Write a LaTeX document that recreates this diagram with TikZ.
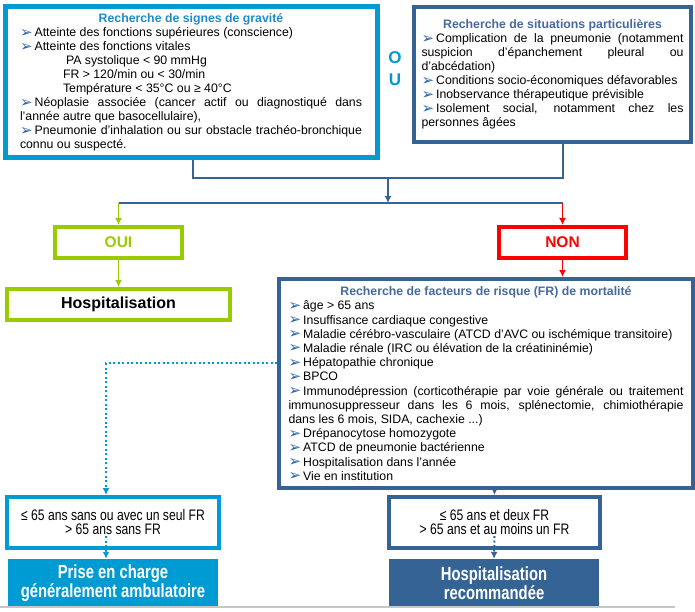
\documentclass[tikz,border=0pt]{standalone}
\usepackage{fontspec}
\setmainfont{Liberation Sans}
\newfontfamily\etroit[FakeStretch=0.8]{Liberation Sans}
\newfontfamily\etroitgras[FakeStretch=0.78]{Liberation Sans}
\newfontfamily\symb{DejaVu Sans}
\usetikzlibrary{arrows.meta, calc}

\definecolor{cyanfr}{RGB}{0,155,210}
\definecolor{bleufr}{RGB}{52,99,148}
\definecolor{vertfr}{RGB}{153,204,0}
\definecolor{rougefr}{RGB}{255,0,0}
\definecolor{titrecyan}{RGB}{30,140,200}
\definecolor{titrebleu}{RGB}{70,105,160}
\definecolor{pucefr}{RGB}{40,100,170}
\newcommand{\puce}{\smash{\symb\fontsize{15}{10}\selectfont\color{pucefr}\raisebox{-0.5pt}{➢}}\,}
\newcommand{\corps}{\fontsize{12.3}{14}\selectfont}
\hyphenpenalty=10000
\exhyphenpenalty=10000
\emergencystretch=10pt

\tikzset{
  cadre/.style={draw, line width=4.5pt, align=justify, inner sep=0pt, font=\corps},
  choix/.style={draw, line width=4pt, minimum width=127pt, minimum height=31pt,
    font=\bfseries\fontsize{15.5}{17}\selectfont},
  seuil/.style={draw, line width=4pt, minimum width=212pt, minimum height=51pt,
    align=center, font=\etroit\fontsize{15.2}{14}\selectfont},
  issue/.style={minimum width=210pt, minimum height=48pt, text=white, align=center,
    font=\etroitgras\bfseries\fontsize{19}{19}\selectfont},
  lien/.style={line width=1.2pt, bleufr},
  pointille/.style={line width=2pt, dash pattern=on 2pt off 2.5pt},
  >={Latex[length=7pt, width=7pt]}
}

\begin{document}
\begin{tikzpicture}[x=1pt, y=-1pt]
\useasboundingbox (0,0) rectangle (695,612);

% les deux recherches de depart
\node[cadre, draw=cyanfr, line width=5pt, text width=342pt, minimum width=372pt, minimum height=151pt] (gravite) at (191,82.5) {%
{\centering\bfseries\color{titrecyan}Recherche de signes de gravité\par}
\puce Atteinte des fonctions supérieures (conscience)\par
\puce Atteinte des fonctions vitales\par
\hspace*{46pt}PA systolique < 90 mmHg\par
\hspace*{43pt}FR > 120/min ou < 30/min\par
\hspace*{43pt}Température < 35°C ou ≥ 40°C\par
\puce Néoplasie associée (cancer actif ou diagnostiqué dans l'année autre que basocellulaire),\par
\puce Pneumonie d'inhalation ou sur obstacle trachéo-bronchique connu ou suspecté.};
\node[text=cyanfr, align=center, font=\bfseries\fontsize{17}{22}\selectfont] (ou) at (395,69) {O\\U};
\node[cadre, draw=bleufr, text width=262pt, minimum width=277pt, minimum height=135pt] (situ) at (552.5,74.5) {%
{\centering\bfseries\color{titrebleu}Recherche de situations particulières\par}
\puce Complication de la pneumonie (notamment suspicion d'épanchement pleural ou d'abcédation)\par
\puce Conditions socio-économiques défavorables\par
\puce Inobservance thérapeutique prévisible\par
\puce Isolement social, notamment chez les personnes âgées\par
\vspace*{8pt}};

% reponse
\node[choix, draw=vertfr, text=vertfr] (oui) at (118.5,242.5) {OUI};
\node[choix, draw=rougefr, text=rougefr] (non) at (562.5,242.5) {NON};
\node[choix, draw=vertfr, minimum width=223pt, font=\bfseries\fontsize{16}{18}\selectfont] (hospit) at (118.5,304.5) {Hospitalisation};

\node[cadre, draw=bleufr, line width=4pt, text width=395pt, minimum width=414pt, minimum height=209pt,
  font=\fontsize{12.3}{14.2}\selectfont] (facteurs) at (486,383.5) {%
{\centering\bfseries\color{titrebleu}Recherche de facteurs de risque (FR) de mortalité\par}
\puce âge > 65 ans\par
\puce Insuffisance cardiaque congestive\par
\puce Maladie cérébro-vasculaire (ATCD d'AVC ou ischémique transitoire)\par
\puce Maladie rénale (IRC ou élévation de la créatininémie)\par
\puce Hépatopathie chronique\par
\puce BPCO\par
\puce Immunodépression (corticothérapie par voie générale ou traitement immunosuppresseur dans les 6 mois, splénectomie, chimiothérapie\linebreak dans les 6 mois, SIDA, cachexie ...)\par
\puce Drépanocytose homozygote\par
\puce ATCD de pneumonie bactérienne\par
\puce Hospitalisation dans l'année\par
\puce Vie en institution};

% orientation finale
\node[seuil, draw=cyanfr] (sans) at (113,522.5) {≤ 65 ans sans ou avec un seul FR\\> 65 ans sans FR};
\node[seuil, draw=bleufr, minimum width=211pt] (et) at (494.5,522.5) {≤ 65 ans et deux FR\\> 65 ans et au moins un FR};
\node[issue, fill=cyanfr] (ambu) at (113,583) {Prise en charge\\généralement ambulatoire};
\node[issue, fill=bleufr] (reco) at (494,583) {Hospitalisation\\recommandée};

% liaisons
\coordinate (j1) at (193,178);
\coordinate (j2) at (563,178);
\coordinate (jm) at (388,178);
\coordinate (fourche) at (388,203);
\coordinate (d1) at (106,363);
\draw[lien] (gravite.south -| j1) -- (j1) -- (j2) -- (situ.south -| j2);
\draw[lien, ->] (jm) -- (fourche);
\draw[lien] (oui.north |- fourche) -- (non.north |- fourche);
\draw[->, line width=1.5pt, vertfr] (oui.north |- fourche) -- (oui.north);
\draw[->, line width=1.5pt, rougefr] (non.north |- fourche) -- (non.north);
\draw[->, line width=1.5pt, vertfr] (oui) -- (hospit);
\draw[->, line width=1.5pt, rougefr] (non.south) -- (non.south |- facteurs.north);
\draw[pointille, cyanfr, ->] (facteurs.west |- d1) -- (d1) -- (d1 |- sans.north);
\draw[pointille, cyanfr, ->] ($(d1 |- sans.south)+(0,-14)$) -- (d1 |- ambu.north);
\draw[lien, ->] (facteurs.south -| et.north) -- (et.north);
\draw[pointille, bleufr, ->] ($(et.south)+(0,-14)$) -- (reco.north);

% pied de page
\draw[gray!45, line width=2pt] (0,607) -- (675,607);
\end{tikzpicture}
\end{document}
